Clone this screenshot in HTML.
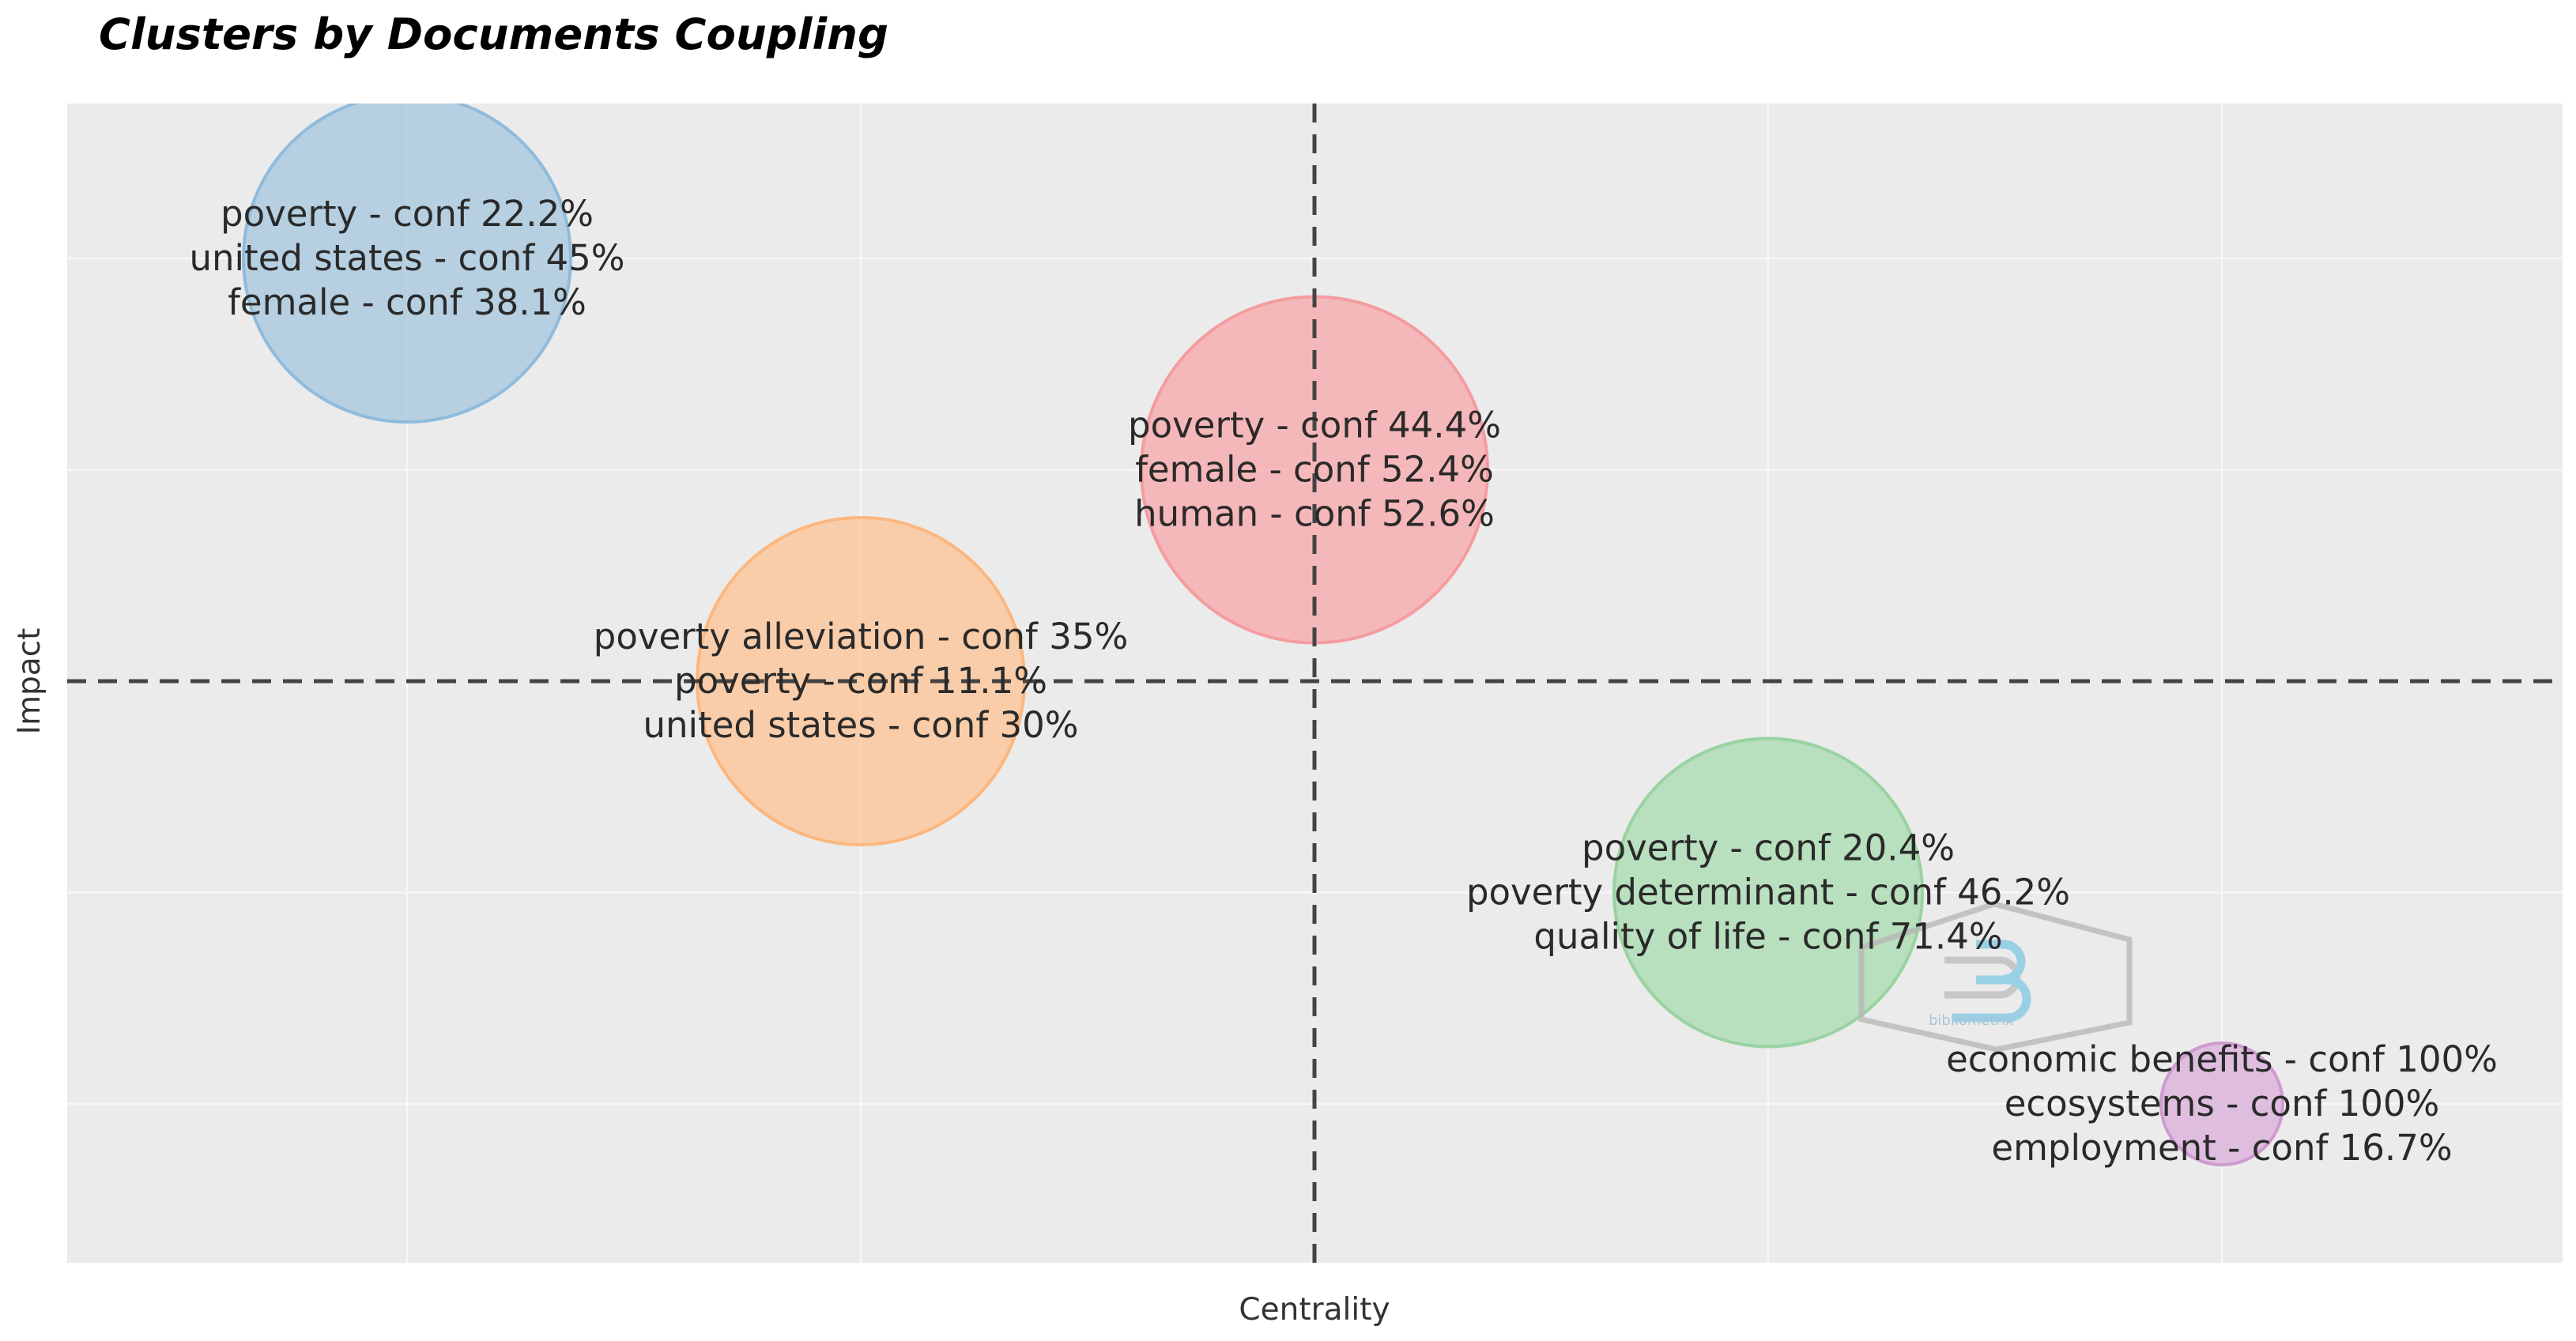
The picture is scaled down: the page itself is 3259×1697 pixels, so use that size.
<!DOCTYPE html>
<html><head><meta charset="utf-8"><style>
html,body{margin:0;padding:0;background:#fff;}
svg{display:block;}
text{font-family:"DejaVu Sans","Liberation Sans",sans-serif;}
</style></head><body>
<svg id="chart" width="3259" height="1697" viewBox="0 0 3259 1697">
<text x="125" y="62" font-size="54.5" font-weight="bold" font-style="italic" fill="#000">Clusters by Documents Coupling</text>
<rect x="85" y="131" width="3157" height="1467" fill="#ebebeb"/>
<g id="grid"></g>
<g id="bubbles"></g>
<g id="refs"></g>
<g opacity="0.75">
<polygon points="2523,1144 2694,1189 2694,1294 2526,1328 2355,1290 2355,1199" fill="none" stroke="#b5b5b5" stroke-width="7"/>
<path d="M2460,1215 h70 a22,22 0 0 1 0,44 h-70" fill="none" stroke="#bcbcbc" stroke-width="9"/>
<path d="M2500,1240 h40 a24,24 0 0 1 0,48 h-70" fill="none" stroke="#7ec8e3" stroke-width="11"/>
<path d="M2500,1195 h35 a22,22 0 0 1 0,44" fill="none" stroke="#7ec8e3" stroke-width="11"/>
<text x="2440" y="1297" font-size="18" fill="#8fb9d0">bibliometrix</text>
</g>
<g id="labels"></g>
<text x="1663" y="1670" font-size="39" fill="#333" text-anchor="middle">Centrality</text>
<text x="0" y="0" font-size="39" fill="#333" text-anchor="middle" transform="translate(50,862) rotate(-90)">Impact</text>
</svg>
<script>
const clusterNames = ["cluster-blue","cluster-red","cluster-orange","cluster-green","cluster-purple"];
const centrality = [-2, 0, -1, 1, 2];
const impact = [2, 1, 0, -1, -2];
const bubbleSize = [207, 219, 207, 195, 77];
const fills = ["#a9c8de","#f7abae","#fdc59a","#abdcb3","#dbb1dc"];
const strokes = ["#8fbbdc","#f59ca0","#fcb77f","#98d3a2","#d09ad1"];
const labelLines = [
 ["poverty - conf 22.2%","united states - conf 45%","female - conf 38.1%"],
 ["poverty - conf 44.4%","female - conf 52.4%","human - conf 52.6%"],
 ["poverty alleviation - conf 35%","poverty - conf 11.1%","united states - conf 30%"],
 ["poverty - conf 20.4%","poverty determinant - conf 46.2%","quality of life - conf 71.4%"],
 ["economic benefits - conf 100%","ecosystems - conf 100%","employment - conf 16.7%"]
];
const xTicks = [-2,-1,0,1,2];
const yTicks = [-2,-1,0,1,2];
const NS="http://www.w3.org/2000/svg";
const X0=85,X1=3242,Y0=131,Y1=1598;
function sx(v){return 1663+v*574;}
function sy(v){return 862-v*267.5;}
function mk(t,a,p){const e=document.createElementNS(NS,t);for(const k in a)e.setAttribute(k,a[k]);p.appendChild(e);return e;}
const grid=document.getElementById('grid');
xTicks.forEach(v=>{if(v===0)return;const l=mk('line',{x1:sx(v),x2:sx(v),y1:Y0,y2:Y1,stroke:'#f7f7f7','stroke-width':2.5},grid);

});
yTicks.forEach(v=>{if(v===0)return;const l=mk('line',{x1:X0,x2:X1,y1:sy(v),y2:sy(v),stroke:'#f7f7f7','stroke-width':2.5},grid);

});
const defs=mk('defs',{},document.getElementById('chart'));
const cp=mk('clipPath',{id:'pc'},defs);mk('rect',{x:X0,y:Y0,width:X1-X0,height:Y1-Y0},cp);
const bg=document.getElementById('bubbles');bg.setAttribute('clip-path','url(#pc)');
const lg=document.getElementById('labels');
centrality.forEach((c,i)=>{
 const cx=sx(c),cy=sy(impact[i]);
 const b=mk('circle',{cx:cx,cy:cy,r:bubbleSize[i],fill:fills[i],'fill-opacity':0.8,stroke:strokes[i],'stroke-width':4},bg);
 
 
 labelLines[i].forEach((s,j)=>{
  const t=mk('text',{x:cx,y:cy+(j-1)*56+15,'font-size':45,fill:'#2a2a2a','text-anchor':'middle'},lg);
  t.textContent=s;
  
  
 });
});
const refs=document.getElementById('refs');
const vl=mk('line',{x1:sx(0),x2:sx(0),y1:Y0,y2:Y1,stroke:'#444','stroke-width':5,'stroke-dasharray':'24 15'},refs);


const hl=mk('line',{x1:X0,x2:X1,y1:sy(0),y2:sy(0),stroke:'#444','stroke-width':5,'stroke-dasharray':'24 15'},refs);


</script>
</body></html>
